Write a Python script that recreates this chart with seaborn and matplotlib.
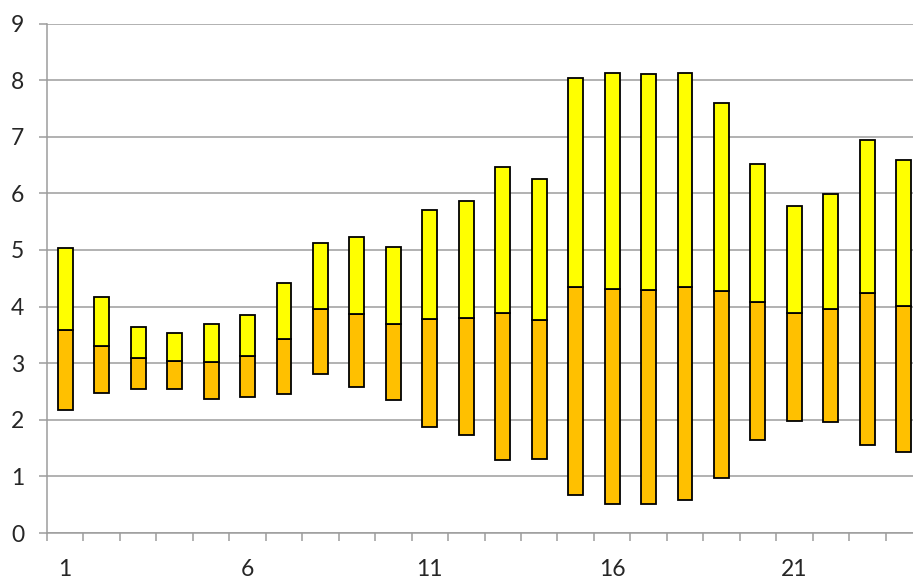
import numpy as np
import pandas as pd
import matplotlib
matplotlib.use("Agg")
import matplotlib.pyplot as plt
from matplotlib.ticker import FixedLocator, NullFormatter, FixedFormatter
import seaborn as sns

# Daily ranges: low, middle split, high
categories = [str(i) for i in range(1, 25)]
low = [2.17, 2.47, 2.55, 2.55, 2.37, 2.40, 2.46, 2.81, 2.58, 2.35, 1.87, 1.73,
       1.29, 1.31, 0.67, 0.52, 0.51, 0.59, 0.97, 1.64, 1.98, 1.96, 1.56, 1.43]
mid = [3.59, 3.31, 3.09, 3.04, 3.02, 3.13, 3.43, 3.96, 3.87, 3.70, 3.78, 3.80,
       3.89, 3.77, 4.35, 4.31, 4.30, 4.35, 4.28, 4.08, 3.89, 3.96, 4.24, 4.01]
high = [5.04, 4.17, 3.64, 3.54, 3.70, 3.85, 4.42, 5.13, 5.22, 5.06, 5.71, 5.87,
        6.47, 6.26, 8.04, 8.12, 8.10, 8.12, 7.60, 6.52, 5.78, 5.98, 6.95, 6.59]
x_labels = ["1", "6", "11", "16", "21"]

df = pd.DataFrame({"cat": categories, "low": low, "mid": mid, "high": high})
df["lower_h"] = df["mid"] - df["low"]
df["upper_h"] = df["high"] - df["mid"]

sns.set_style("white")
plt.rcParams["font.family"] = ["Lato", "DejaVu Sans"]

W, H = 913, 578
fig = plt.figure(figsize=(W / 100, H / 100), dpi=100)
left_px, right_px, bottom_px, top_px = 47, 922, 533, 23.5
ax = fig.add_axes([left_px / W, (H - bottom_px) / H,
                   (right_px - left_px) / W, (bottom_px - top_px) / H])

edge = dict(edgecolor="black", linewidth=1.3)
sns.barplot(data=df, x="cat", y="lower_h", order=categories, bottom=df["low"].values,
            color="#FFC000", saturation=1, width=0.41, errorbar=None, ax=ax, zorder=3, **edge)
sns.barplot(data=df, x="cat", y="upper_h", order=categories, bottom=df["mid"].values,
            color="#FFFF00", saturation=1, width=0.41, errorbar=None, ax=ax, zorder=3, **edge)

grid_c = "#9C9C9C"
ax.set_ylim(0, 9)
ax.set_xlim(-0.5, len(categories) - 0.5)
ax.set_yticks(range(0, 10))
ax.yaxis.grid(True, color=grid_c, linewidth=1.1, zorder=0)
ax.set_axisbelow(True)

# Tick marks at category boundaries, labels every fifth category
ax.xaxis.set_major_locator(FixedLocator(np.arange(-0.5, len(categories), 1.0)))
ax.xaxis.set_major_formatter(NullFormatter())
ax.xaxis.set_minor_locator(FixedLocator([0, 5, 10, 15, 20]))
ax.xaxis.set_minor_formatter(FixedFormatter(x_labels))
ax.tick_params(axis="x", which="major", direction="out", length=6, width=1.1,
               color=grid_c, bottom=True)
ax.tick_params(axis="x", which="minor", length=0, pad=18.5, labelsize=16.5)
ax.tick_params(axis="y", direction="out", length=6, width=1.1, color=grid_c,
               left=True, labelsize=16.5, pad=10.5)

for s in ["top", "right"]:
    ax.spines[s].set_visible(False)
for s in ["left", "bottom"]:
    ax.spines[s].set_color(grid_c)
    ax.spines[s].set_linewidth(1.1)
ax.set_xlabel("")
ax.set_ylabel("")

fig.savefig("out.png", dpi=100)
